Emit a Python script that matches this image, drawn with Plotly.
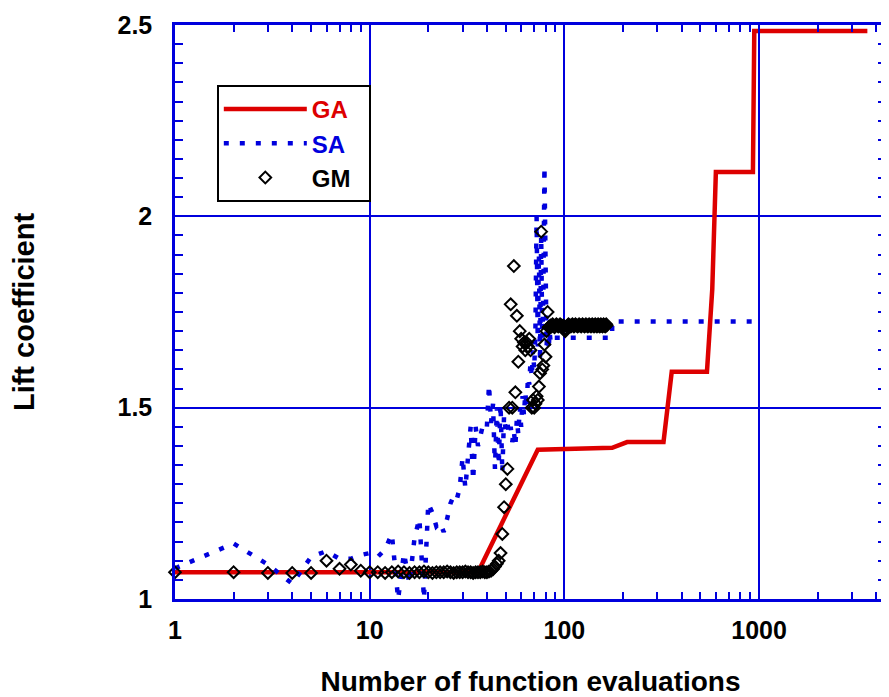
import plotly.graph_objects as go

# ---------------- data ----------------
GA_x = [1, 36, 73, 176, 210, 323, 356, 540, 575, 600, 930, 945, 3600]
GA_y = [1.07, 1.07, 1.39, 1.395, 1.41, 1.41, 1.594, 1.594, 1.81, 2.116, 2.116, 2.484, 2.484]

SA_x = [1, 2, 3, 4, 5, 6, 7, 8, 9, 10,
        11, 12, 13, 14, 15, 16, 17, 18, 19, 20,
        21, 22, 23, 24, 25, 26, 27, 28, 29, 30,
        31, 32, 33, 34, 35, 36, 37, 38, 39, 40,
        41, 42, 43, 44, 45, 46, 47, 48, 49, 50,
        51, 52, 53, 54, 55, 56, 57, 58, 59, 60,
        61, 62, 63, 64, 65, 66, 67, 68, 69, 70,
        71, 72, 73, 74, 75, 76, 77, 78, 79, 80,
        81, 82, 83, 84, 85, 86, 176, 176, 950]
SA_y = [1.08, 1.145, 1.09, 1.04, 1.11, 1.125, 1.105, 1.105, 1.115, 1.12,
        1.11, 1.13, 1.17, 1.00, 1.12, 1.04, 1.16, 1.21, 1.00, 1.25,
        1.225, 1.19, 1.20, 1.175, 1.21, 1.25, 1.27, 1.26, 1.29, 1.37,
        1.29, 1.36, 1.45, 1.31, 1.45, 1.40, 1.43, 1.45, 1.46, 1.45,
        1.56, 1.46, 1.51, 1.34, 1.50, 1.35, 1.51, 1.33, 1.48, 1.44,
        1.46, 1.43, 1.45, 1.41, 1.44, 1.40, 1.47, 1.43, 1.50, 1.45,
        1.53, 1.48, 1.54, 1.50, 1.58, 1.56, 1.62, 1.58, 1.65, 1.60,
        1.70, 2.00, 1.66, 1.90, 1.62, 1.95, 1.68, 1.80, 2.13, 1.69,
        1.66, 1.71, 1.65, 1.70, 1.67, 1.683, 1.683, 1.725, 1.725]

GM_x = list(range(1, 166))
GM_y = [1.070, 1.070, 1.068, 1.068, 1.068, 1.100, 1.079, 1.090, 1.074, 1.070,
        1.070, 1.068, 1.070, 1.072, 1.070, 1.068, 1.070, 1.070, 1.072, 1.070,
        1.068, 1.070, 1.070, 1.070, 1.072, 1.070, 1.068, 1.070, 1.070, 1.070,
        1.072, 1.070, 1.070, 1.068, 1.070, 1.070, 1.070, 1.072, 1.070, 1.070,
        1.072, 1.074, 1.078, 1.085, 1.092, 1.100, 1.120, 1.170, 1.240, 1.300,
        1.340, 1.500, 1.770, 1.500, 1.870, 1.540, 1.740, 1.620, 1.700, 1.680,
        1.660, 1.670, 1.650, 1.670, 1.660, 1.680, 1.650, 1.500, 1.520, 1.500,
        1.510, 1.530, 1.520, 1.555, 1.590, 1.960, 1.600, 1.610, 1.665, 1.633,
        1.700, 1.750, 1.710, 1.712, 1.715, 1.712, 1.718, 1.715, 1.710, 1.715,
        1.718, 1.715, 1.712, 1.715, 1.718, 1.715, 1.715, 1.712, 1.715, 1.705,
        1.700, 1.705, 1.712, 1.715, 1.718, 1.715, 1.715, 1.712, 1.715, 1.718,
        1.715, 1.712, 1.715, 1.718, 1.715, 1.715, 1.712, 1.715, 1.718, 1.715,
        1.715, 1.712, 1.715, 1.718, 1.715, 1.715, 1.712, 1.715, 1.718, 1.715,
        1.715, 1.712, 1.715, 1.718, 1.715, 1.715, 1.712, 1.715, 1.718, 1.715,
        1.715, 1.712, 1.715, 1.718, 1.715, 1.715, 1.712, 1.715, 1.718, 1.715,
        1.715, 1.712, 1.715, 1.718, 1.715, 1.715, 1.712, 1.715, 1.718, 1.715,
        1.715, 1.712, 1.715, 1.718, 1.715]

X_TICKS = [1, 10, 100, 1000]
X_TICK_TEXT = ["1", "10", "100", "1000"]
X_MINOR = [2, 3, 4, 5, 6, 7, 8, 9, 20, 30, 40, 50, 60, 70, 80, 90,
           200, 300, 400, 500, 600, 700, 800, 900, 2000, 3000, 4000]
Y_TICKS = [1, 1.5, 2, 2.5]
Y_TICK_TEXT = ["1", "1.5", "2", "2.5"]

BLUE = "#0000dd"
RED = "#dd0000"
FONT = "Liberation Sans, Arial, sans-serif"
PAD = "\u00a0\u00a0"

fig = go.Figure()
fig.add_trace(go.Scatter(
    x=GA_x, y=GA_y, mode="lines",
    name="<span style='color:#dd0000'>GA</span>" + PAD,
    line=dict(color=RED, width=4.5), cliponaxis=False))
fig.add_trace(go.Scatter(
    x=SA_x, y=SA_y, mode="lines",
    name="<span style='color:#0000dd'>SA</span>" + PAD,
    line=dict(color=BLUE, width=4.5, dash="5px,11px")))
fig.add_trace(go.Scatter(
    x=GM_x, y=GM_y, mode="markers", name="GM" + PAD,
    marker=dict(symbol="diamond-open", size=9, color="black",
                line=dict(width=2, color="black")),
    cliponaxis=False))

fig.update_layout(
    width=881, height=689,
    margin=dict(l=167, r=0, t=17, b=98),
    paper_bgcolor="white", plot_bgcolor="white",
    font=dict(family=FONT, color="black"),
    showlegend=True,
    legend=dict(x=0.0588, y=0.8955, xanchor="left", yanchor="top",
                bgcolor="white", bordercolor="black", borderwidth=2,
                font=dict(family=FONT, size=24, weight="bold", color="black"),
                itemwidth=83, tracegroupgap=0),
)

fig.update_xaxes(
    type="log", range=[0, 3.652],
    tickmode="array", tickvals=X_TICKS, ticktext=X_TICK_TEXT,
    tickfont=dict(family=FONT, size=25, weight="bold", color="black"),
    ticks="inside", ticklen=10, tickwidth=2, tickcolor=BLUE,
    ticklabelstandoff=7,
    showline=True, linecolor=BLUE, linewidth=2.5, mirror="ticks",
    showgrid=True, gridcolor=BLUE, gridwidth=2, zeroline=False,
    minor=dict(tickmode="array", tickvals=X_MINOR, ticks="inside",
               ticklen=7, tickwidth=1.5, tickcolor=BLUE, showgrid=False),
    title=dict(text="Number of function evaluations",
               font=dict(family=FONT, size=28, weight="bold", color="black"),
               standoff=34),
)
fig.update_yaxes(
    range=[1, 2.5],
    tickmode="array", tickvals=Y_TICKS, ticktext=Y_TICK_TEXT,
    tickfont=dict(family=FONT, size=25, weight="bold", color="black"),
    ticks="inside", ticklen=10, tickwidth=2, tickcolor=BLUE,
    ticklabelstandoff=15,
    showline=True, linecolor=BLUE, linewidth=2.5, mirror="ticks",
    showgrid=True, gridcolor=BLUE, gridwidth=2, zeroline=False,
    minor=dict(dtick=0.05, ticks="inside", ticklen=8, tickwidth=1.5,
               tickcolor=BLUE, showgrid=False),
    title=dict(text="Lift coefficient",
               font=dict(family=FONT, size=29, weight="bold", color="black"),
               standoff=84),
)

fig.write_html("out.html")
